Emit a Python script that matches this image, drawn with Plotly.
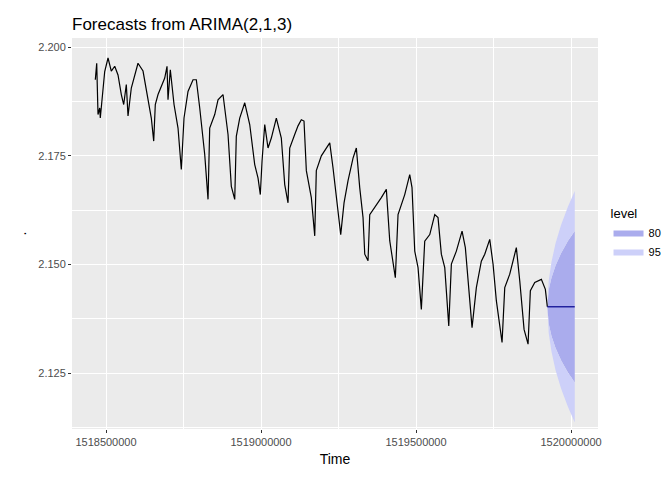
import plotly.graph_objects as go

obs_time = [1518465500, 1518470000, 1518474200, 1518479700, 1518481600, 1518490300, 1518495800,
            1518506500, 1518517100, 1518528100, 1518538700, 1518549400, 1518557100, 1518565500,
            1518571000, 1518581600, 1518592600, 1518603200, 1518619400, 1518635500, 1518646100,
            1518653900, 1518659000, 1518667800, 1518689400, 1518696800, 1518700000, 1518707400,
            1518719400, 1518732300, 1518742900, 1518751600, 1518764500, 1518780700, 1518791300,
            1518802300, 1518818400, 1518829100, 1518834500, 1518850700, 1518861300, 1518877400,
            1518893600, 1518904200, 1518915200, 1518920300, 1518931300, 1518947500, 1518963600,
            1518979700, 1518990400, 1518997800, 1519003300, 1519012000, 1519022600, 1519033300,
            1519049400, 1519065500, 1519076500, 1519087100, 1519092600, 1519108700, 1519119400,
            1519130000, 1519138700, 1519146200, 1519162300, 1519173300, 1519178400, 1519194600,
            1519210700, 1519221700, 1519232300, 1519248400, 1519257100, 1519267800, 1519280700,
            1519296800, 1519307500, 1519318400, 1519329100, 1519334600, 1519345200, 1519350700,
            1519366800, 1519388100, 1519404300, 1519415200, 1519433300, 1519442000, 1519463600,
            1519479700, 1519487100, 1519495900, 1519506500, 1519517200, 1519528100, 1519544300,
            1519560400, 1519571000, 1519581700, 1519592700, 1519605600, 1519614000, 1519630100,
            1519648500, 1519659100, 1519667800, 1519680700, 1519694600, 1519710700, 1519721700,
            1519737800, 1519748500, 1519759100, 1519777500, 1519786200, 1519802300, 1519823600,
            1519834600, 1519848500, 1519861400, 1519868800, 1519883000, 1519904300, 1519917200,
            1519923600]
obs_value = [2.1925, 2.1963, 2.1845, 2.1860, 2.1837, 2.1906, 2.1944,
             2.1975, 2.1945, 2.1956, 2.1936, 2.1891, 2.1868, 2.1914,
             2.1842, 2.1906, 2.1936, 2.1963, 2.1945, 2.1883, 2.1837,
             2.1784, 2.1868, 2.1891, 2.1929, 2.1956, 2.1879, 2.1948,
             2.1868, 2.1814, 2.1719, 2.1837, 2.1898, 2.1925, 2.1925,
             2.1860, 2.1753, 2.1650, 2.1814, 2.1845, 2.1879, 2.1891,
             2.1799, 2.1680, 2.1650, 2.1795, 2.1837, 2.1872, 2.1822,
             2.1730, 2.1699, 2.1661, 2.1738, 2.1822, 2.1768, 2.1791,
             2.1837, 2.1791, 2.1684, 2.1642, 2.1768, 2.1799, 2.1819,
             2.1833, 2.1830, 2.1716, 2.1654, 2.1566, 2.1716, 2.1750,
             2.1768, 2.1780, 2.1722, 2.1624, 2.1569, 2.1642, 2.1693,
             2.1745, 2.1768, 2.1677, 2.1608, 2.1524, 2.1509, 2.1615,
             2.1631, 2.1654, 2.1673, 2.1555, 2.1470, 2.1615, 2.1661,
             2.1707, 2.1677, 2.1531, 2.1493, 2.1397, 2.1554, 2.1569,
             2.1615, 2.1608, 2.1524, 2.1493, 2.1359, 2.1501, 2.1531,
             2.1577, 2.1539, 2.1463, 2.1355, 2.1447, 2.1508, 2.1524,
             2.1558, 2.1501, 2.1417, 2.1321, 2.1447, 2.1478, 2.1539,
             2.1463, 2.1351, 2.1317, 2.1440, 2.1459, 2.1466, 2.1443,
             2.1403]

# forecast and intervals
fc_time = [1519923600, 1519928000, 1519936900, 1519950100, 1519967800, 1519989900, 1520012000]
fc_mean = [2.1403, 2.1403, 2.1403, 2.1403, 2.1403, 2.1403, 2.1403]
hi95 = [2.1403, 2.1463, 2.1506, 2.1549, 2.1591, 2.1633, 2.1669]
lo95 = [2.1403, 2.1343, 2.1300, 2.1257, 2.1215, 2.1173, 2.1137]
hi80 = [2.1403, 2.1442, 2.1470, 2.1498, 2.1526, 2.1554, 2.1577]
lo80 = [2.1403, 2.1364, 2.1336, 2.1308, 2.1280, 2.1252, 2.1229]

x_ticks = [1518500000, 1519000000, 1519500000, 1520000000]
y_ticks = [2.125, 2.150, 2.175, 2.200]

c80 = "rgb(170,172,237)"
c95 = "rgb(205,208,249)"

fig = go.Figure()
fig.add_trace(go.Scatter(x=fc_time + fc_time[::-1], y=hi80 + lo80[::-1], fill="toself", mode="lines",
                         fillcolor=c80, line=dict(width=0, color=c80), name="80", legendrank=1,
                         hoverinfo="skip"))
fig.add_trace(go.Scatter(x=fc_time + fc_time[::-1], y=hi95 + lo95[::-1], fill="tonext", mode="lines",
                         fillcolor=c95, line=dict(width=0, color=c95), name="95", legendrank=2,
                         hoverinfo="skip"))
fig.add_trace(go.Scatter(x=obs_time, y=obs_value, mode="lines",
                         line=dict(color="black", width=1.2), showlegend=False))
fig.add_trace(go.Scatter(x=fc_time, y=fc_mean, mode="lines",
                         line=dict(color="#00008B", width=1.2), showlegend=False))

grid = dict(gridcolor="white", showline=False, zeroline=False, ticks="outside",
            tickcolor="#333333", ticklen=3, automargin=False,
            tickfont=dict(size=11, color="#4d4d4d"))
fig.update_layout(
    width=672, height=480,
    margin=dict(l=64, r=82, t=30, b=59),
    paper_bgcolor="white", plot_bgcolor="#EBEBEB",
    font=dict(family="Liberation Sans, Arial, sans-serif", color="black"),
    title=dict(text="Forecasts from ARIMA(2,1,3)", x=64/672, xanchor="left",
               y=1-16/480, yanchor="middle", font=dict(size=17)),
    xaxis=dict(range=[1518390300, 1520087000], tickvals=x_ticks,
               ticktext=[str(v) for v in x_ticks], gridwidth=1.1,
               minor=dict(dtick=250000, tick0=1518250000, gridcolor="white", gridwidth=0.5, ticks=""),
               title=dict(text="Time", font=dict(size=14), standoff=6), **grid),
    yaxis=dict(range=[2.1122, 2.2021], tickvals=y_ticks,
               ticktext=["%.3f" % v for v in y_ticks], gridwidth=1.1,
               minor=dict(dtick=0.0125, tick0=2.1125, gridcolor="white", gridwidth=0.5, ticks=""),
               title=dict(text=".", font=dict(size=14), standoff=8), **grid),
    legend=dict(title=dict(text="level", font=dict(size=13)), x=1.02, y=0.5,
                yanchor="middle", font=dict(size=11), tracegroupgap=0, itemsizing="constant"),
)

fig.write_html("out.html")
